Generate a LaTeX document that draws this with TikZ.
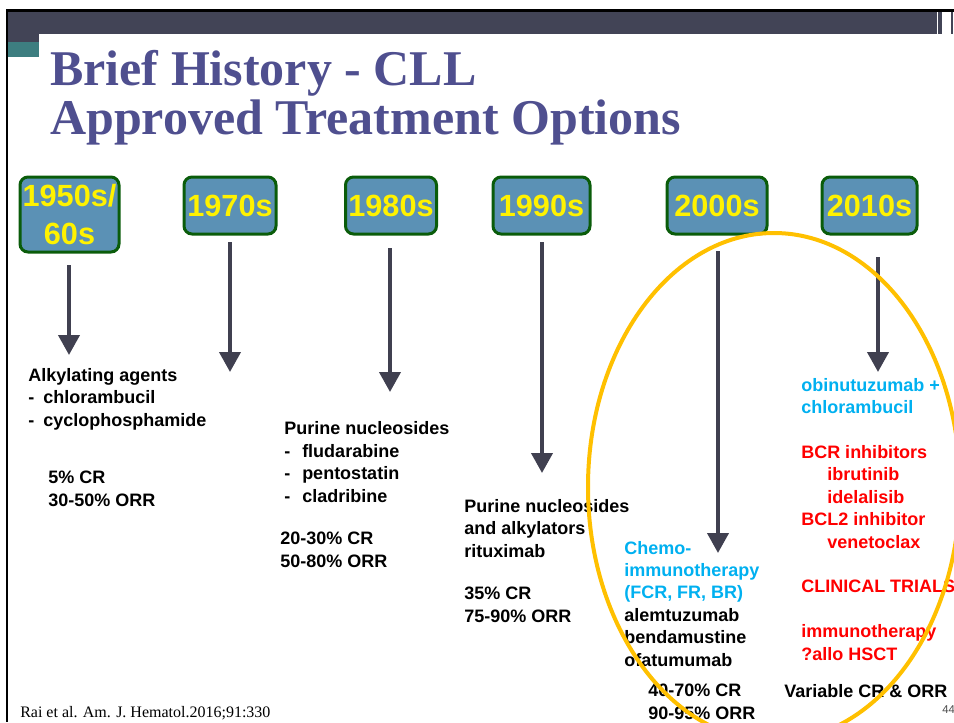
\documentclass[tikz,border=0pt]{standalone}
\usepackage{fontspec}
\setmainfont{Liberation Sans}
\newfontfamily\titlefont{Liberation Serif}
\usetikzlibrary{arrows.meta}
\definecolor{barcol}{HTML}{424456}
\definecolor{tealcol}{HTML}{3D7E80}
\definecolor{titlecol}{HTML}{4F4F8F}
\definecolor{boxfill}{HTML}{5B91B5}
\definecolor{boxline}{HTML}{0A5C0A}
\definecolor{arrcol}{HTML}{404050}
\definecolor{cyancol}{HTML}{00B0F0}
\definecolor{ellcol}{HTML}{FFC000}
\tikzset{
	yearbox/.style={draw=boxline, line width=2.25pt, fill=boxfill, rounded corners=6pt,
		minimum height=42.75pt, inner sep=0pt, text=yellow, align=center,
		font=\fontsize{23}{28.5}\selectfont\bfseries},
	downarr/.style={draw=arrcol, line width=3pt, -{Triangle[width=15.75pt,length=15pt]}},
	drugs/.style={anchor=base west, inner sep=0pt, align=left,
		font=\fontsize{13.5}{16.8}\selectfont\bfseries},
	plain/.style={anchor=base west, inner sep=0pt}
}
\begin{document}
\begin{tikzpicture}[x=0.75pt, y=-0.75pt]
	\useasboundingbox (0,0) rectangle (954,722);
	
	\fill[black] (6,9) rectangle (954,12);
	\fill[black] (6,9) rectangle (8.3,722);
	\fill[barcol] (8.3,12) rectangle (936.7,34);
	\fill[barcol] (8.3,34) rectangle (39,42);
	\fill[tealcol] (8.3,42) rectangle (39,57);
	\fill[barcol] (938.3,12) rectangle (941.7,34);
	\fill[barcol] (951,12) rectangle (952.7,34);
	
	\node[plain, text=titlecol, font=\titlefont\bfseries\fontsize{37.5}{44}\selectfont] (title1) at (50,85) {Brief History - CLL};
	\node[plain, text=titlecol, font=\titlefont\bfseries\fontsize{37.5}{44}\selectfont] (title2) at (50,134) {Approved Treatment Options};
	
	\node[yearbox, minimum width=74.25pt, minimum height=56.25pt] (y50s) at (69.5,214.5) {1950s/\\60s};
	\node[yearbox, minimum width=69pt] (y70s) at (230,205.5) {1970s};
	\node[yearbox, minimum width=68.25pt] (y80s) at (391,205.5) {1980s};
	\node[yearbox, minimum width=72.75pt] (y90s) at (541.5,205.5) {1990s};
	\node[yearbox, minimum width=75pt] (y00s) at (717,205.5) {2000s};
	\node[yearbox, minimum width=71.25pt] (y10s) at (869.5,205.5) {2010s};
	
	\coordinate (a50s) at (69,265);
	\coordinate (t50s) at (69,355);
	\coordinate (a70s) at (230,242);
	\coordinate (t70s) at (230,372);
	\coordinate (a80s) at (390,248);
	\coordinate (t80s) at (390,392);
	\coordinate (a90s) at (542,242);
	\coordinate (t90s) at (542,473);
	\coordinate (a00s) at (718,251);
	\coordinate (t00s) at (718,553);
	\coordinate (a10s) at (878,257);
	\coordinate (t10s) at (878,372);
	\draw[downarr] (a50s) -- (t50s);
	\draw[downarr] (a70s) -- (t70s);
	\draw[downarr] (a80s) -- (t80s);
	\draw[downarr] (a90s) -- (t90s);
	\draw[downarr] (a00s) -- (t00s);
	\draw[downarr] (a10s) -- (t10s);
	
	% multi-line nodes sit on the baseline of their last line
	\node[drugs] (d50s) at (28,426) {Alkylating agents\\-\hspace{6.75pt}chlorambucil\\-\hspace{6.75pt}cyclophosphamide};
	\node[drugs] (r50s) at (48,506) {5\% CR\\30-50\% ORR};
	
	\node[drugs] (d80s) at (284,502) {Purine nucleosides\\-\hspace{9pt}fludarabine\\-\hspace{9pt}pentostatin\\-\hspace{9pt}cladribine};
	\node[drugs] (r80s) at (280,567) {20-30\% CR\\50-80\% ORR};
	
	\node[drugs] (d90s) at (464,557) {Purine nucleosides\\and alkylators\\rituximab};
	\node[drugs] (r90s) at (464,622) {35\% CR\\75-90\% ORR};
	
	\node[drugs] (d00s) at (624,666) {\textcolor{cyancol}{Chemo-}\\\textcolor{cyancol}{immunotherapy}\\\textcolor{cyancol}{(FCR, FR, BR)}\\alemtuzumab\\bendamustine\\ofatumumab};
	\node[drugs] (r00s) at (648,719) {40-70\% CR\\90-95\% ORR};
	
	\node[drugs, text=red] (d10s) at (801,660) {\textcolor{cyancol}{obinutuzumab +}\\\textcolor{cyancol}{chlorambucil}\\[16.8pt]BCR inhibitors\\\hspace*{19.5pt}ibrutinib\\\hspace*{19.5pt}idelalisib\\BCL2 inhibitor\\\hspace*{19.5pt}venetoclax\\[16.8pt]CLINICAL TRIALS\\[16.8pt]immunotherapy\\?allo HSCT};
	\node[drugs] (r10s) at (784,697) {Variable CR \& ORR};
	
	\draw[ellcol, line width=3pt] (774,487) ellipse [x radius=139.5pt, y radius=190.5pt];
	
	\node[plain, font=\titlefont\fontsize{12}{14}\selectfont] (src) at (20,717) {Rai et al. Am. J. Hematol.2016;91:330};
	\node[plain, text=black!70, font=\fontsize{8.5}{10}\selectfont] (pg) at (942,713) {44};
\end{tikzpicture}
\end{document}
